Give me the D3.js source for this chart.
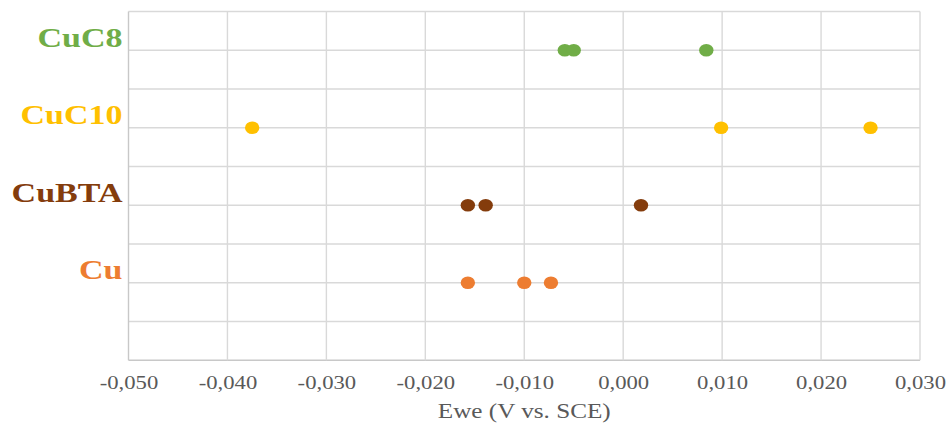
<!DOCTYPE html>
<html>
<head>
<meta charset="utf-8">
<script src="https://cdn.jsdelivr.net/npm/d3@7"></script>
<style>
  html, body { margin: 0; padding: 0; background: #fff; }
  svg { display: block; }
</style>
</head>
<body>
<svg id="chart" width="947" height="423"></svg>
<script>
// ---- data ----
const categories = ["Cu", "CuBTA", "CuC10", "CuC8"];
const categoryLevels = [2, 4, 6, 8];
const categoryColors = ["#ED7D31", "#843C0C", "#FFC000", "#70AD47"];
const cuValues = [-0.0157, -0.0100, -0.0073];
const cuBTAValues = [-0.0157, -0.0139, 0.0018];
const cuC10Values = [-0.0375, 0.0099, 0.0250];
const cuC8Values = [-0.0059, -0.0050, 0.0084];
const seriesValues = [cuValues, cuBTAValues, cuC10Values, cuC8Values];
const xTicks = [-0.05, -0.04, -0.03, -0.02, -0.01, 0, 0.01, 0.02, 0.03];
const xTickLabels = ["-0,050", "-0,040", "-0,030", "-0,020", "-0,010", "0,000", "0,010", "0,020", "0,030"];
const yGridLevels = [0, 1, 2, 3, 4, 5, 6, 7, 8, 9];
const xAxisTitle = "Ewe (V vs. SCE)";

// ---- layout ----
const plotLeft = 128.5, plotRight = 920, plotTop = 11.5, plotBottom = 360.3;
const stretch = 1.26;

const svg = d3.select("#chart");
const x = d3.scaleLinear().domain([-0.05, 0.03]).range([plotLeft, plotRight]);
const y = d3.scaleLinear().domain([0, 9]).range([plotBottom, plotTop]);

const grid = svg.append("g");
grid.selectAll("line.h").data(yGridLevels).join("line")
  .attr("x1", plotLeft).attr("x2", plotRight)
  .attr("y1", d => y(d)).attr("y2", d => y(d))
  .attr("stroke", d => d === 0 ? "#c8c8c8" : "#d9d9d9")
  .attr("stroke-width", 1.4);
grid.selectAll("line.v").data(xTicks).join("line")
  .attr("y1", plotTop).attr("y2", plotBottom)
  .attr("x1", d => x(d)).attr("x2", d => x(d))
  .attr("stroke", (d, i) => i === 0 ? "#c8c8c8" : "#d9d9d9")
  .attr("stroke-width", 1.4);

const xAxis = d3.axisBottom(x).tickValues(xTicks)
  .tickFormat((d, i) => xTickLabels[i]).tickSize(0).tickPadding(0);
const ax = svg.append("g").attr("transform", `translate(0,${plotBottom})`).call(xAxis);
ax.select(".domain").remove();
ax.selectAll(".tick text")
  .attr("y", 0).attr("dy", 0)
  .attr("font-family", "'Liberation Serif', 'Times New Roman', serif")
  .attr("font-size", 18)
  .attr("fill", "#595959")
  .attr("transform", `translate(0,29) scale(${stretch},1)`);

svg.append("text")
  .attr("transform", `translate(${(plotLeft + plotRight) / 2},418) scale(${stretch},1)`)
  .attr("text-anchor", "middle")
  .attr("font-family", "'Liberation Serif', 'Times New Roman', serif")
  .attr("font-size", 20)
  .attr("fill", "#595959")
  .text(xAxisTitle);

svg.append("g").selectAll("text").data(categories).join("text")
  .attr("transform", (d, i) => `translate(122.5,${y(categoryLevels[i]) - 3.5}) scale(${stretch},1)`)
  .attr("text-anchor", "end")
  .attr("font-family", "'Liberation Serif', 'Times New Roman', serif")
  .attr("font-weight", "bold")
  .attr("font-size", 27)
  .attr("fill", (d, i) => categoryColors[i])
  .text(d => d);

const pts = [];
seriesValues.forEach((vals, i) => vals.forEach(v => pts.push({v, i})));
svg.append("g").selectAll("ellipse").data(pts).join("ellipse")
  .attr("cx", d => x(d.v))
  .attr("cy", d => y(categoryLevels[d.i]))
  .attr("rx", 7.2).attr("ry", 6.3)
  .attr("fill", d => categoryColors[d.i]);
</script>
</body>
</html>
